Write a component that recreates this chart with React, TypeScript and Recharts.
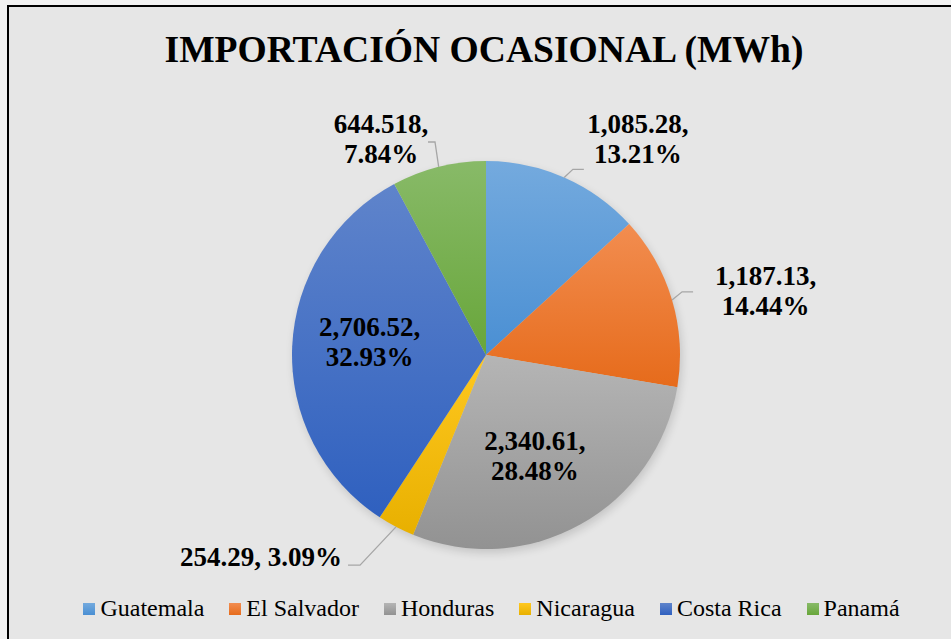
import React from 'react';
import { PieChart, Pie, Cell, Legend } from 'recharts';

const categories = ['Guatemala', 'El Salvador', 'Honduras', 'Nicaragua', 'Costa Rica', 'Panamá'];
const values = [1085.28, 1187.13, 2340.61, 254.29, 2706.52, 644.518];
const titleText = 'IMPORTACIÓN OCASIONAL (MWh)';

const topColors = ['#74aade', '#f28d50', '#b5b5b5', '#ffc820', '#5f84cb', '#88ba68'];
const bottomColors = ['#4a8fd3', '#e66b1b', '#929292', '#e8b000', '#2f60bf', '#68a63a'];

const data = categories.map((name, i) => ({ name, value: values[i] }));

const FONT = "'Liberation Serif', 'Times New Roman', 'DejaVu Serif', serif";

type LabelCfg = {
  mode: 'in' | 'out';
  ext?: number;
  rot?: number;
  horiz?: number;
  r?: number;
  dx: number;
  dy: number[];
  anchor: 'start' | 'middle' | 'end';
  oneLine?: boolean;
};

const labelLayout: LabelCfg[] = [
  { mode: 'out', ext: 11, rot: 1.3, horiz: 11, dx: 54, dy: [-36, -6], anchor: 'middle' },
  { mode: 'out', ext: 12, rot: -1.4, horiz: 11, dx: 72.5, dy: [-7, 23], anchor: 'middle' },
  { mode: 'in', r: 0.6, dx: -7.8, dy: [-6.6, 23.4], anchor: 'middle' },
  { mode: 'out', ext: 51, rot: 3.3, horiz: -12, dx: -6, dy: [1], anchor: 'end', oneLine: true },
  { mode: 'in', r: 0.6, dx: 0, dy: [-14, 16], anchor: 'middle' },
  { mode: 'out', ext: 25, rot: 0.65, horiz: -7, dx: -47, dy: [-9, 21], anchor: 'middle' },
];

const RAD = Math.PI / 180;

const fmt = (v: number) => v.toLocaleString('en-US', { maximumFractionDigits: 3 });

const renderLabel = (props: any) => {
  const { cx, cy, midAngle, outerRadius, index, value, percent } = props;
  const cfg = labelLayout[index];
  const cw = 90 - midAngle;
  const polar = (r: number, a: number) => ({
    x: cx + r * Math.sin(a * RAD),
    y: cy - r * Math.cos(a * RAD),
  });
  const valStr = fmt(value) + ',';
  const pctStr = (percent * 100).toFixed(2) + '%';
  const textProps = {
    fontFamily: FONT,
    fontWeight: 'bold' as const,
    fontSize: 27,
    fill: '#000',
    textAnchor: cfg.anchor,
  };
  if (cfg.mode === 'in') {
    const p = polar(outerRadius * (cfg.r || 0.6), cw);
    const x = p.x + cfg.dx;
    return (
      <g key={`lbl-${index}`}>
        <text {...textProps} x={x} y={p.y + cfg.dy[0]}>{valStr}</text>
        <text {...textProps} x={x} y={p.y + cfg.dy[1]}>{pctStr}</text>
      </g>
    );
  }
  const start = polar(outerRadius, cw);
  const elbow = polar(outerRadius + (cfg.ext || 0), cw + (cfg.rot || 0));
  const endX = elbow.x + (cfg.horiz || 0);
  const tx = endX + cfg.dx;
  return (
    <g key={`lbl-${index}`}>
      <polyline
        points={`${start.x},${start.y} ${elbow.x},${elbow.y} ${endX},${elbow.y}`}
        fill="none"
        stroke="#a6a6a6"
        strokeWidth={1.3}
      />
      {cfg.oneLine ? (
        <text {...textProps} x={tx} y={elbow.y + cfg.dy[0]}>{valStr + ' ' + pctStr}</text>
      ) : (
        <>
          <text {...textProps} x={tx} y={elbow.y + cfg.dy[0]}>{valStr}</text>
          <text {...textProps} x={tx} y={elbow.y + cfg.dy[1]}>{pctStr}</text>
        </>
      )}
    </g>
  );
};

const renderLegend = () => (
  <div
    style={{
      display: 'flex',
      justifyContent: 'center',
      alignItems: 'center',
      gap: 25,
      fontFamily: FONT,
      fontSize: 24,
      lineHeight: '24px',
      color: '#000',
      whiteSpace: 'nowrap',
    }}
  >
    {categories.map((c, i) => (
      <div key={c} style={{ display: 'flex', alignItems: 'center' }}>
        <span
          style={{
            display: 'inline-block',
            width: 12,
            height: 12,
            marginRight: 5,
            marginTop: 1,
            background: `linear-gradient(${topColors[i]}, ${bottomColors[i]})`,
          }}
        />
        <span>{c}</span>
      </div>
    ))}
  </div>
);

export default function App() {
  return (
    <div
      style={{
        position: 'absolute',
        left: 0,
        top: 0,
        width: 951,
        height: 639,
        overflow: 'hidden',
        background: '#f2f2f2',
      }}
    >
      <style>{`.pie-shadow { filter: blur(3px); opacity: 0.38; }`}</style>
      <div
        style={{
          position: 'absolute',
          left: 7,
          top: 5,
          width: 960,
          height: 650,
          borderTop: '2px solid #000',
          borderLeft: '2px solid #000',
          background: '#e6e6e6',
        }}
      />
      <svg
        width={951}
        height={639}
        style={{ position: 'absolute', left: 0, top: 0 }}
      >
        <text
          x={484}
          y={62}
          textAnchor="middle"
          fontFamily={FONT}
          fontWeight="bold"
          fontSize={37.6}
          fill="#000"
        >
          {titleText}
        </text>
      </svg>
      <div style={{ position: 'absolute', left: 0, top: 0 }}>
        <PieChart width={951} height={639} margin={{ top: 0, right: 0, bottom: 0, left: 0 }}>
          <defs>
            {categories.map((c, i) => (
              <linearGradient key={c} id={`grad-${i}`} x1="0" y1="0" x2="0" y2="1">
                <stop offset="0%" stopColor={topColors[i]} />
                <stop offset="100%" stopColor={bottomColors[i]} />
              </linearGradient>
            ))}
          </defs>
          <Pie
            className="pie-shadow"
            data={data}
            dataKey="value"
            nameKey="name"
            cx={488}
            cy={359}
            outerRadius={194}
            startAngle={90}
            endAngle={-270}
            stroke="none"
            fill="#000"
            label={false}
            labelLine={false}
            isAnimationActive={false}
            legendType="none"
          />
          <Pie
            data={data}
            dataKey="value"
            nameKey="name"
            cx={486}
            cy={355}
            outerRadius={194}
            startAngle={90}
            endAngle={-270}
            stroke="none"
            label={renderLabel}
            labelLine={false}
            isAnimationActive={false}
          >
            {data.map((d, i) => (
              <Cell key={d.name} fill={`url(#grad-${i})`} />
            ))}
          </Pie>
          <Legend
            content={renderLegend}
            wrapperStyle={{ position: 'absolute', left: 0, top: 596, width: 983, height: 26, bottom: 'auto' }}
          />
        </PieChart>
      </div>
    </div>
  );
}
